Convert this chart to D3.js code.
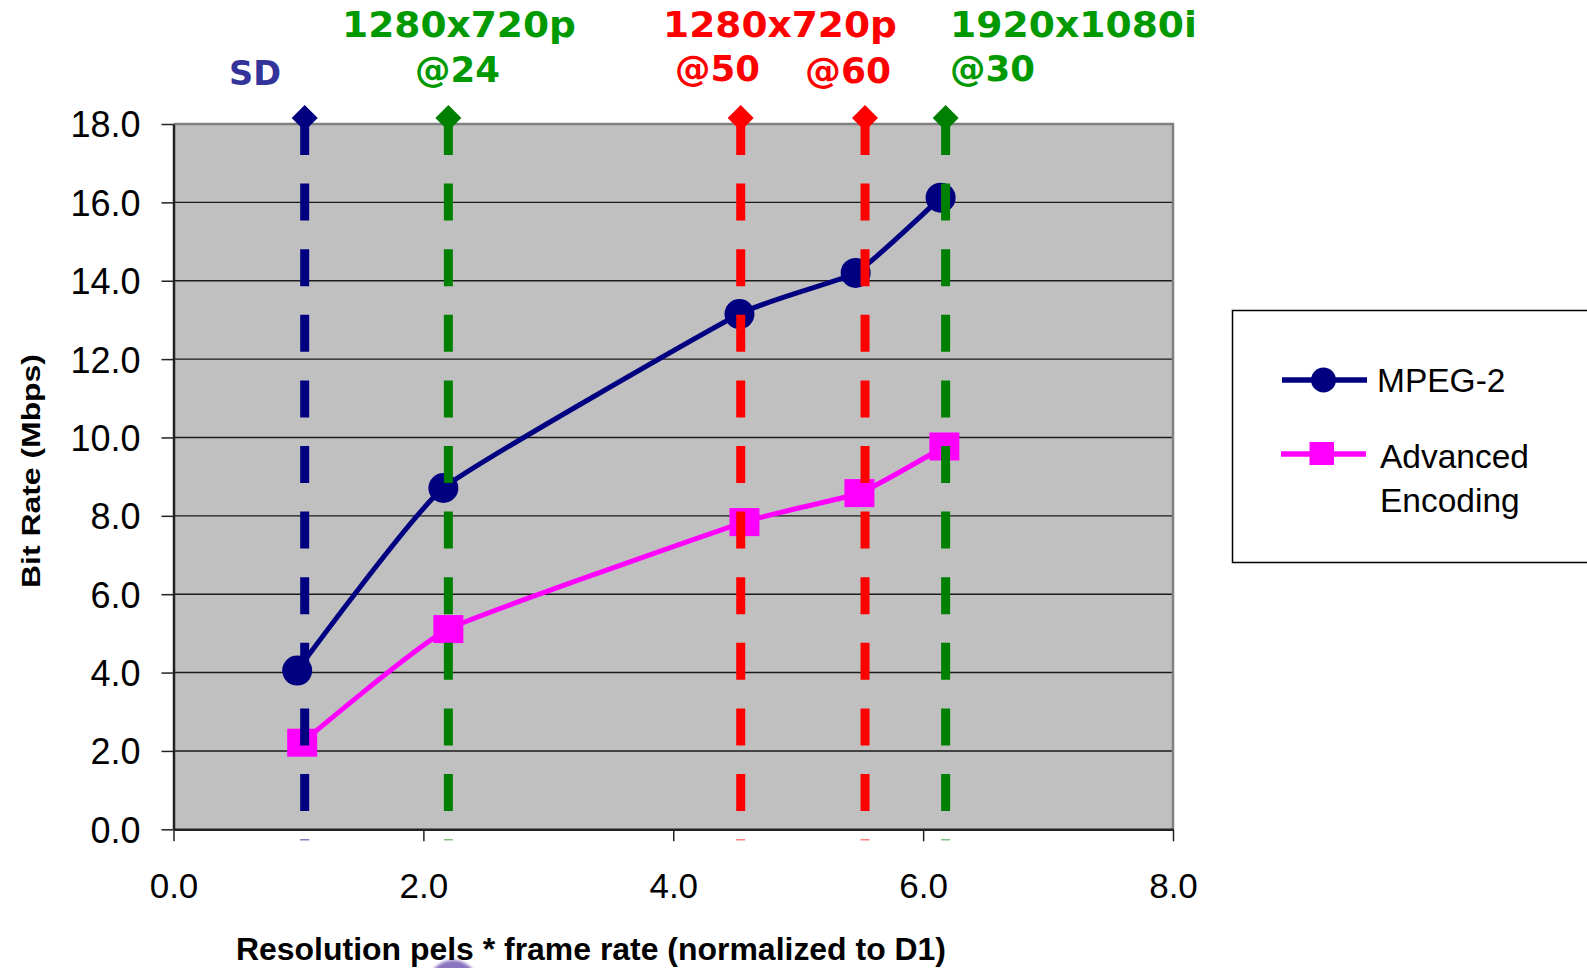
<!DOCTYPE html>
<html>
<head>
<meta charset="utf-8">
<script src="https://cdn.jsdelivr.net/npm/d3@7"></script>
<style>
  html, body { margin: 0; padding: 0; background: #fff; }
  svg { display: block; }
</style>
</head>
<body>
<script>
// Series values
const mpegX = [0.99, 2.16, 4.53, 5.46, 6.14];
const mpegY = [4.05, 8.71, 13.15, 14.2, 16.12];
const advX = [1.03, 2.2, 4.57, 5.49, 6.17];
const advY = [2.21, 5.11, 7.84, 8.58, 9.77];

// Vertical format markers
const formatX = [1.05, 2.2, 4.54, 5.535, 6.18];
const formatColors = ["#000080", "#008000", "#ff0000", "#ff0000", "#008000"];

// Tick labels
const xTicks = [0, 2, 4, 6, 8];
const yTicks = [0, 2, 4, 6, 8, 10, 12, 14, 16, 18];

const seriesNames = ["MPEG-2", "Advanced Encoding"];

// Annotation texts above the plot
const topLabels = [
  { text: "SD", color: "#333399", x: 229, y: 85, w: 52, size: 33 },
  { text: "1280x720p", color: "#009900", x: 342, y: 37, w: 234, size: 36 },
  { text: "@24", color: "#009900", x: 415, y: 82, w: 85, size: 36 },
  { text: "1280x720p", color: "#ff0000", x: 663, y: 37, w: 234, size: 36 },
  { text: "@50", color: "#ff0000", x: 675, y: 81, w: 85, size: 36 },
  { text: "@60", color: "#ff0000", x: 805, y: 83, w: 86, size: 36 },
  { text: "1920x1080i", color: "#009900", x: 950, y: 37, w: 247, size: 36 },
  { text: "@30", color: "#009900", x: 950, y: 81, w: 85, size: 36 }
];

const width = 1587, height = 968;
const margin = { left: 173.5, top: 124, right: 1173, bottom: 829.3 };
const sans = "'Liberation Sans', Arial, sans-serif";

const svg = d3.select("body").append("svg")
  .attr("width", width)
  .attr("height", height);

const x = d3.scaleLinear().domain([0, 8]).range([margin.left, margin.right]);
const y = d3.scaleLinear().domain([0, 18]).range([margin.bottom, margin.top]);

// purple blob peeking in at the bottom
const defs = svg.append("defs");
defs.append("filter").attr("id", "soft")
  .append("feGaussianBlur").attr("stdDeviation", 1.5);
svg.append("circle")
  .attr("cx", 453).attr("cy", 985).attr("r", 25)
  .attr("fill", "#8b74c0")
  .attr("filter", "url(#soft)");

// Plot area
svg.append("rect")
  .attr("x", x(0)).attr("y", y(18))
  .attr("width", x(8) - x(0)).attr("height", y(0) - y(18))
  .attr("fill", "#c0c0c0");

// gridlines
svg.append("g")
  .selectAll("line")
  .data(yTicks.filter(d => d > 0 && d < 18))
  .join("line")
  .attr("x1", x(0)).attr("x2", x(8))
  .attr("y1", d => y(d)).attr("y2", d => y(d))
  .attr("stroke", "#1a1a1a")
  .attr("stroke-width", 1.4);

// plot border (top and right, gray)
svg.append("path")
  .attr("d", `M${x(0)},${y(18)}H${x(8)}V${y(0)}`)
  .attr("fill", "none")
  .attr("stroke", "#808080")
  .attr("stroke-width", 2.5);

// Y axis
const yAxis = svg.append("g")
  .attr("transform", `translate(${x(0)},0)`)
  .call(d3.axisLeft(y).tickValues(yTicks).tickFormat(d3.format(".1f")).tickSize(12).tickSizeOuter(0));
yAxis.select(".domain").attr("stroke", "#222").attr("stroke-width", 2.5);
yAxis.selectAll(".tick line").attr("stroke", "#222").attr("stroke-width", 1.5);
yAxis.selectAll(".tick text")
  .attr("x", -33)
  .attr("dy", "0.36em")
  .attr("font-family", sans)
  .attr("font-size", "36px")
  .attr("fill", "#000");

// X axis
const xAxis = svg.append("g")
  .attr("transform", `translate(0,${y(0)})`)
  .call(d3.axisBottom(x).tickValues(xTicks).tickFormat(d3.format(".1f")).tickSize(12).tickSizeOuter(0));
xAxis.select(".domain").attr("stroke", "#222").attr("stroke-width", 2.5);
xAxis.selectAll(".tick line").attr("stroke", "#222").attr("stroke-width", 1.5);
xAxis.selectAll(".tick text")
  .attr("y", 69)
  .attr("dy", null)
  .attr("font-family", sans)
  .attr("font-size", "35px")
  .attr("fill", "#000");

// Axis titles
svg.append("text")
  .attr("x", 236).attr("y", 960)
  .attr("font-family", sans)
  .attr("font-weight", "bold")
  .attr("font-size", "32px")
  .attr("textLength", 710)
  .attr("lengthAdjust", "spacingAndGlyphs")
  .text("Resolution pels * frame rate (normalized to D1)");

svg.append("text")
  .attr("transform", "translate(39.5,588) rotate(-90)")
  .attr("font-family", sans)
  .attr("font-weight", "bold")
  .attr("font-size", "26px")
  .attr("textLength", 234)
  .attr("lengthAdjust", "spacingAndGlyphs")
  .text("Bit Rate (Mbps)");

// Series lines (lightly smoothed)
const line = d3.line()
  .x(d => x(d[0]))
  .y(d => y(d[1]))
  .curve(d3.curveCardinal.tension(0.6));

const mpeg = mpegX.map((v, i) => [v, mpegY[i]]);
const adv = advX.map((v, i) => [v, advY[i]]);

svg.append("path")
  .datum(mpeg)
  .attr("d", line)
  .attr("fill", "none")
  .attr("stroke", "#000080")
  .attr("stroke-width", 5);

svg.append("path")
  .datum(adv)
  .attr("d", line)
  .attr("fill", "none")
  .attr("stroke", "#ff00ff")
  .attr("stroke-width", 5);

svg.append("g")
  .selectAll("circle")
  .data(mpeg)
  .join("circle")
  .attr("cx", d => x(d[0]))
  .attr("cy", d => y(d[1]))
  .attr("r", 15)
  .attr("fill", "#000080");

svg.append("g")
  .selectAll("rect")
  .data(adv)
  .join("rect")
  .attr("x", d => x(d[0]) - 15)
  .attr("y", d => y(d[1]) - 14)
  .attr("width", 30)
  .attr("height", 28)
  .attr("fill", "#ff00ff");

// Dashed format lines, drawn on top
const formats = svg.append("g")
  .selectAll("g")
  .data(formatX.map((v, i) => ({ v, color: formatColors[i] })))
  .join("g");

formats.append("line")
  .attr("x1", d => x(d.v)).attr("x2", d => x(d.v))
  .attr("y1", y(18) - 6).attr("y2", y(0) + 11)
  .attr("stroke", d => d.color)
  .attr("stroke-width", 9)
  .attr("stroke-dasharray", "37 28.6");

formats.append("path")
  .attr("d", d => {
    const cx = x(d.v), cy = y(18) - 6, r = 13;
    return `M${cx},${cy - r}L${cx + r},${cy}L${cx},${cy + r}L${cx - r},${cy}Z`;
  })
  .attr("fill", d => d.color);

// Top annotations
svg.append("g")
  .selectAll("text")
  .data(topLabels)
  .join("text")
  .attr("x", d => d.x)
  .attr("y", d => d.y)
  .attr("font-family", "'DejaVu Sans', Verdana, sans-serif")
  .attr("font-weight", "bold")
  .attr("font-size", d => d.size + "px")
  .attr("fill", d => d.color)
  .attr("textLength", d => d.w)
  .attr("lengthAdjust", "spacingAndGlyphs")
  .text(d => d.text);

// Legend
const legend = svg.append("g");
legend.append("rect")
  .attr("x", 1232.5).attr("y", 310.5)
  .attr("width", 420).attr("height", 252)
  .attr("fill", "#fff")
  .attr("stroke", "#000")
  .attr("stroke-width", 1.5);

legend.append("line")
  .attr("x1", 1282).attr("x2", 1367).attr("y1", 380).attr("y2", 380)
  .attr("stroke", "#000080").attr("stroke-width", 5.5);
legend.append("circle")
  .attr("cx", 1323.5).attr("cy", 380).attr("r", 12.5)
  .attr("fill", "#000080");
legend.append("text")
  .attr("x", 1377).attr("y", 392)
  .attr("font-family", sans).attr("font-size", "33.5px")
  .text(seriesNames[0]);

legend.append("line")
  .attr("x1", 1281).attr("x2", 1366).attr("y1", 454).attr("y2", 454)
  .attr("stroke", "#ff00ff").attr("stroke-width", 5.5);
legend.append("rect")
  .attr("x", 1309.5).attr("y", 442).attr("width", 24.5).attr("height", 23)
  .attr("fill", "#ff00ff");
legend.append("text")
  .attr("font-family", sans).attr("font-size", "33.5px")
  .selectAll("tspan")
  .data(["Advanced", "Encoding"])
  .join("tspan")
  .attr("x", 1380)
  .attr("y", (d, i) => 468 + i * 44)
  .text(d => d);
</script>
</body>
</html>
